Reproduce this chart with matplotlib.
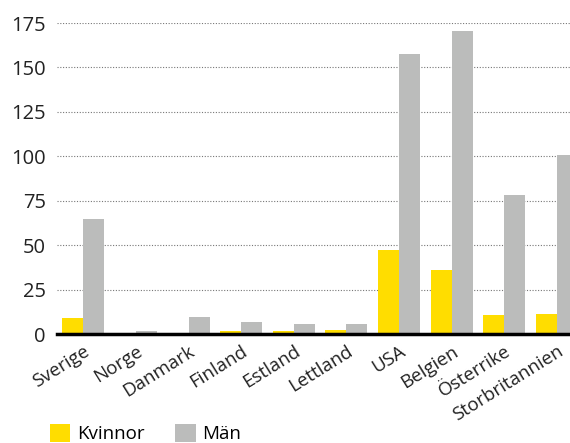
import numpy as np
import matplotlib.pyplot as plt

plt.rcParams['font.family'] = ['Open Sans', 'DejaVu Sans']

countries = ['Sverige', 'Norge', 'Danmark', 'Finland', 'Estland', 'Lettland',
             'USA', 'Belgien', 'Österrike', 'Storbritannien']
kvinnor = [9, 0.5, 0.3, 1.5, 1.5, 2.5, 47.5, 36, 10.5, 11.5]
man = [65, 1.5, 9.5, 6.5, 5.5, 5.5, 157.5, 170.5, 78.5, 101]
yticks = [0, 25, 50, 75, 100, 125, 150, 175]

yellow = '#FFDD00'
grey = '#BBBCBB'

fig = plt.figure(figsize=(5.7, 4.43), dpi=100)
ax = fig.add_axes([0.1, 0.246, 0.923, 0.702])

x = np.arange(len(countries))
w = 0.4
ax.bar(x - w / 2, kvinnor, w, color=yellow, label='Kvinnor', zorder=3)
ax.bar(x + w / 2, man, w, color=grey, label='Män', zorder=3)

ax.set_xlim(-0.5, len(countries) - 0.5)
ax.set_ylim(0, 175)
ax.set_yticks(yticks)
ax.yaxis.grid(True, linestyle=(0, (1, 1.5)), color='#777777', linewidth=0.8, zorder=0)
ax.tick_params(axis='y', length=0, labelsize=14.5, pad=8, colors='#222222')
ax.tick_params(axis='x', length=0, labelsize=13.5, pad=6, colors='#222222')
ax.set_xticks(x)
ax.set_xticklabels(countries, rotation=32, ha='right', va='top', rotation_mode='anchor')

for s in ['top', 'right', 'left']:
    ax.spines[s].set_visible(False)
ax.spines['bottom'].set_linewidth(2.5)
ax.spines['bottom'].set_color('black')
ax.spines['bottom'].set_zorder(4)

fig.legend(loc='lower left', bbox_to_anchor=(0.087, 0.0), ncol=2, frameon=False,
           fontsize=13.5, handlelength=1.1, handleheight=1.1, columnspacing=1.65,
           handletextpad=0.35, borderpad=0, borderaxespad=0)

fig.savefig('out.png', dpi=100)
